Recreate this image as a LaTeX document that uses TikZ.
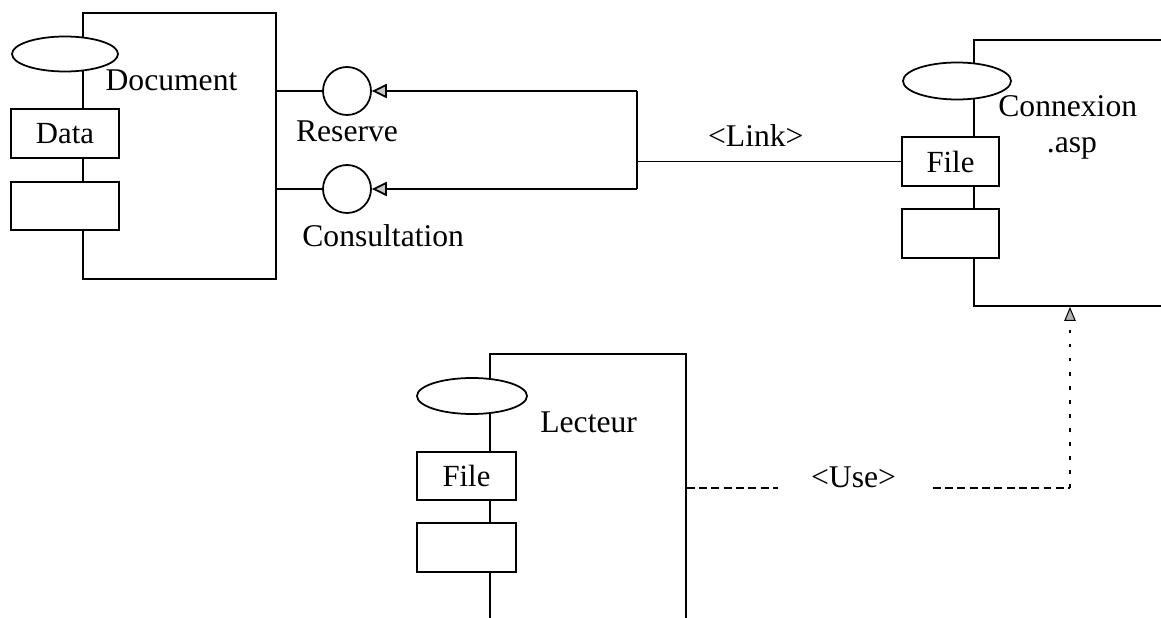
\documentclass[tikz,border=0pt]{standalone}
\usepackage{fontspec}
\setmainfont{Liberation Serif}
\usetikzlibrary{shapes.geometric,arrows.meta}
\begin{document}
\begin{tikzpicture}[x=0.02cm,y=-0.02cm,
  comp/.style={draw, line width=1pt, rectangle, inner sep=0},
  port/.style={draw, fill=white, ellipse, line width=1pt, inner sep=0},
  part/.style={draw, fill=white, rectangle, line width=1pt, inner sep=0, font=\fontsize{17.5}{20}\selectfont},
  iface/.style={draw, circle, line width=1pt, minimum size=0.96cm, inner sep=0},
  lbl/.style={font=\fontsize{18}{21}\selectfont, inner sep=0},
  conn/.style={line width=1pt},
  provide/.style={conn, -{Triangle[open, length=8.5pt, width=8pt, fill=gray!45]}},
  depend/.style={line width=0.9pt, dash pattern=on 2pt off 6pt, -{Triangle[length=8pt, width=6.5pt, color=black, fill=gray!60, line width=0.6pt]}},
  usedash/.style={line width=0.9pt, dash pattern=on 4.5pt off 2.5pt},
]
\useasboundingbox (0,0) rectangle (1161,618);
\clip (0,0) rectangle (1161,618);
\fill[white] (0,0) rectangle (1161,618);

% ---------- Document component ----------
\node[comp, minimum width=3.86cm, minimum height=5.32cm] (doc) at (179.5,146) {};
\node[port, minimum width=2.12cm, minimum height=0.70cm] (docport) at (65,54) {};
\node[part, minimum width=2.16cm, minimum height=0.98cm] (docdata) at (65,133.5) {Data};
\node[part, minimum width=2.16cm, minimum height=0.96cm] (docempty) at (65,206) {};
\node[lbl, anchor=base] (doclbl) at (171.5,91) {Document};

% ---------- Interfaces ----------
\node[iface] (res) at (347,91) {};
\node[iface] (cons) at (347,189) {};
\node[lbl, anchor=base] (reslbl) at (347,142) {Reserve};
\node[lbl, anchor=base west] (conslbl) at (302,247) {Consultation};
\draw[conn] (doc.east |- res) -- (res.west);
\draw[conn] (doc.east |- cons) -- (cons.west);

% ---------- Connexion.asp component ----------
\node[comp, minimum width=5.52cm, minimum height=5.32cm] (cnx) at (1112,173) {};
\node[port, minimum width=2.16cm, minimum height=0.74cm] (cnxport) at (957,81) {};
\node[part, minimum width=1.94cm, minimum height=0.98cm] (cnxfile) at (950.5,161.5) {File};
\node[part, minimum width=1.94cm, minimum height=0.98cm] (cnxempty) at (950.5,233.5) {};
\node[lbl, anchor=base west] (cnxlbl1) at (998,117) {Connexion};
\node[lbl, anchor=base] (cnxlbl2) at (1072,153) {.asp};

% ---------- Link connector ----------
\coordinate (j1) at (637,91);
\coordinate (j2) at (637,189);
\draw[conn] (j1) -- (j2);
\draw[provide] (j1) -- (res);
\draw[provide] (j2) -- (cons);
\draw[conn] (j1 |- cnxfile.west) -- node[lbl, above=8pt, pos=0.45] (linklbl) {<Link>} (cnxfile.west);

% ---------- Lecteur component ----------
\node[comp, minimum width=3.92cm, minimum height=6.92cm] (lect) at (588,527) {};
\node[port, minimum width=2.20cm, minimum height=0.72cm] (lectport) at (472,396) {};
\node[part, minimum width=1.98cm, minimum height=0.96cm] (lectfile) at (466.5,476) {File};
\node[part, minimum width=1.98cm, minimum height=0.98cm] (lectempty) at (466.5,547.5) {};
\node[lbl, anchor=base west] (lectlbl) at (540,433) {Lecteur};

% ---------- Use dependency ----------
\coordinate (u1) at (1070,488);
\draw[usedash] (lect.east |- u1) -- node[lbl, pos=0.435, anchor=base, fill=white, inner xsep=0.66cm, inner ysep=2pt] (uselbl) {<Use>} (u1);
\draw[depend] (u1) -- (cnx.south -| u1);
\end{tikzpicture}
\end{document}
